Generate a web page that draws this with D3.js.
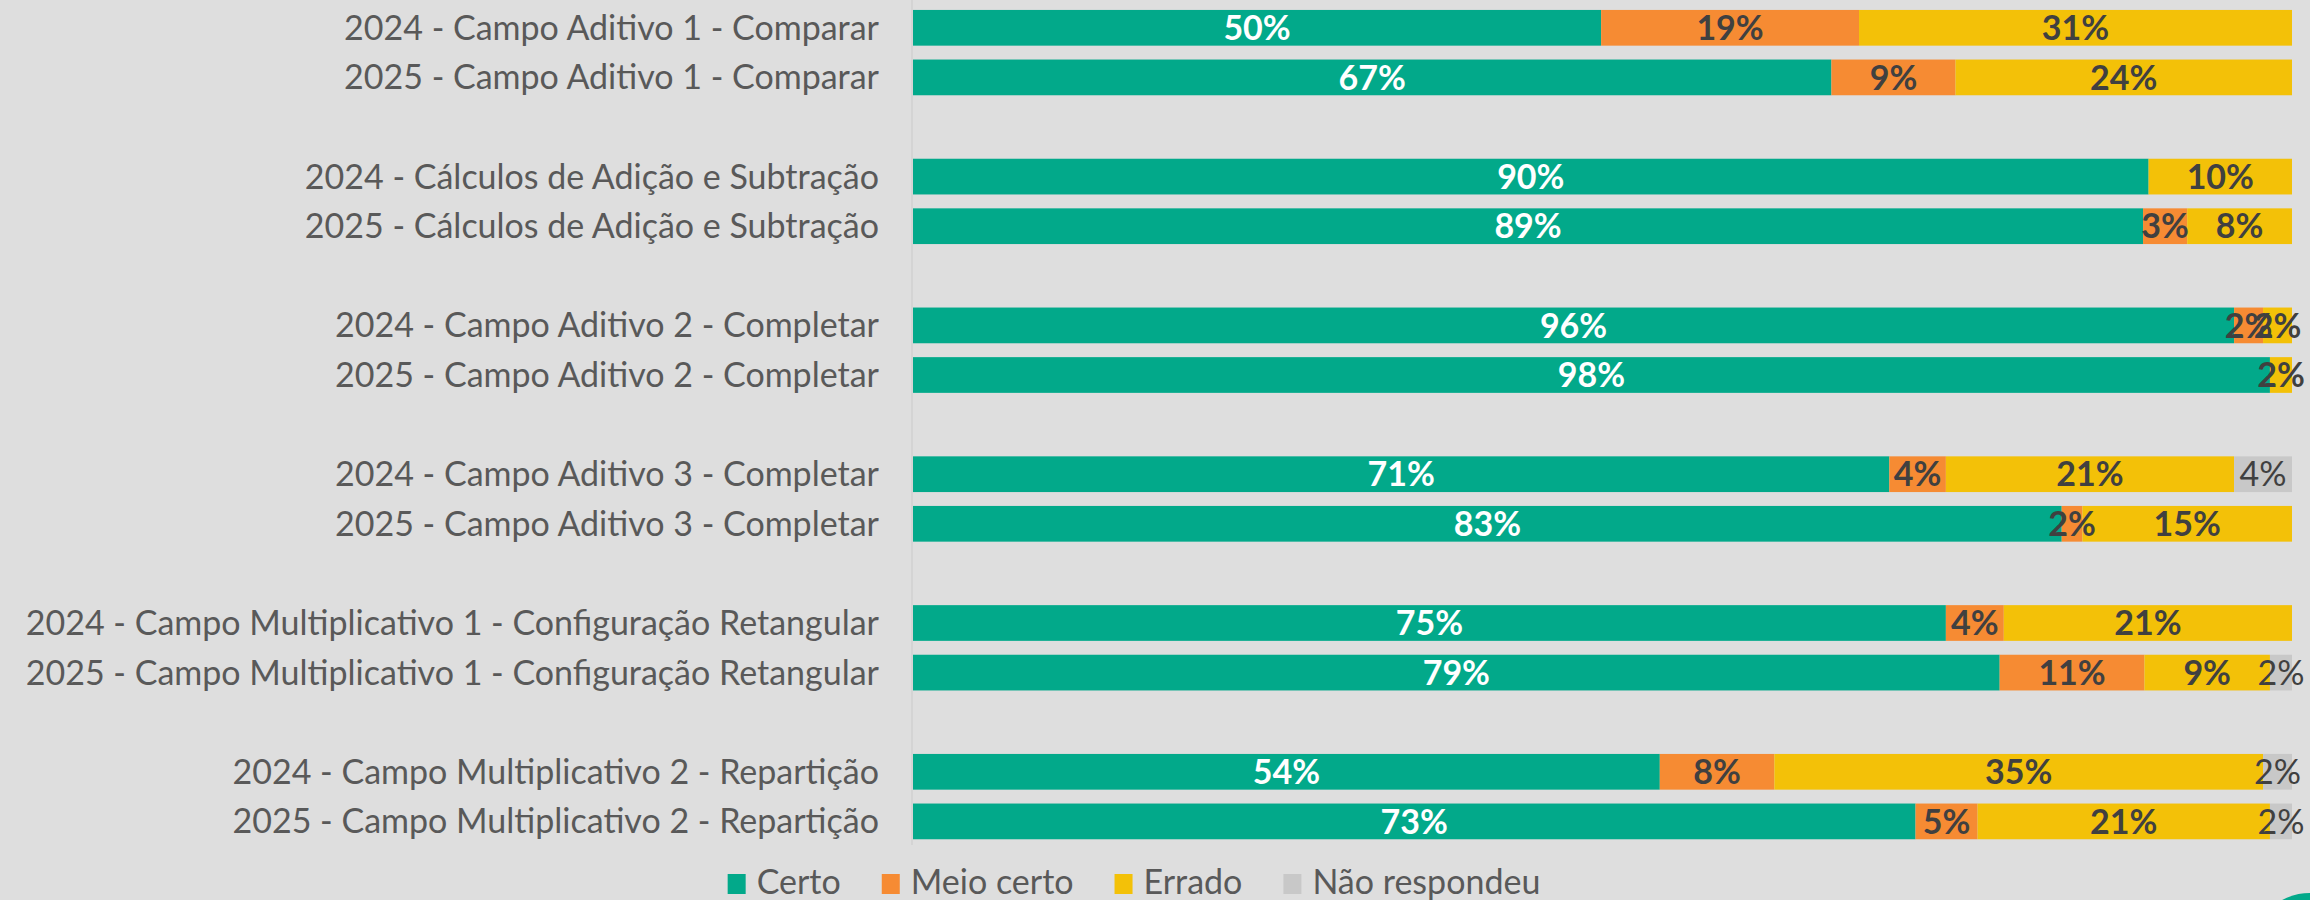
<!DOCTYPE html>
<html>
<head>
<meta charset="utf-8">
<script src="https://cdn.jsdelivr.net/npm/d3@7"></script>
<style>
  body { margin: 0; background: #dedede; }
  svg { display: block; font-family: Lato, "Open Sans", sans-serif; }
</style>
</head>
<body>
<script>
// Categories (top to bottom), empty strings are the gaps between groups
var categories = [
  "2024 - Campo Aditivo 1 - Comparar",
  "2025 - Campo Aditivo 1 - Comparar",
  "",
  "2024 - Cálculos de Adição e Subtração",
  "2025 - Cálculos de Adição e Subtração",
  "",
  "2024 - Campo Aditivo 2 - Completar",
  "2025 - Campo Aditivo 2 - Completar",
  "",
  "2024 - Campo Aditivo 3 - Completar",
  "2025 - Campo Aditivo 3 - Completar",
  "",
  "2024 - Campo Multiplicativo 1 - Configuração Retangular",
  "2025 - Campo Multiplicativo 1 - Configuração Retangular",
  "",
  "2024 - Campo Multiplicativo 2 - Repartição",
  "2025 - Campo Multiplicativo 2 - Repartição"
];

// Series values (percent), one per real category
var certo        = [49.9, 66.6, 89.6, 89.2, 95.8, 98.4, 70.8, 83.3, 74.9, 78.8, 54.1, 72.7];
var meioCerto    = [18.7,  9.0,  0.0,  3.2,  2.1,  0.0,  4.1,  1.5,  4.2, 10.5,  8.3,  4.5];
var errado       = [31.4, 24.4, 10.4,  7.6,  2.1,  1.6, 20.9, 15.2, 20.9,  9.1, 35.4, 21.2];
var naoRespondeu = [ 0.0,  0.0,  0.0,  0.0,  0.0,  0.0,  4.2,  0.0,  0.0,  1.6,  2.1,  1.6];

var seriesNames = ["Certo", "Meio certo", "Errado", "Não respondeu"];
var seriesColors = ["#02a98a", "#f68b33", "#f3c108", "#c8c8c8"];
var labelColors = ["#ffffff", "#404040", "#404040", "#404040"];
var labelWeights = ["bold", "bold", "bold", "normal"];

var W = 2310, H = 900;
var plotLeft = 913, plotRight = 2292;

var svg = d3.select("body").append("svg")
    .attr("width", W).attr("height", H);

svg.append("rect").attr("width", W).attr("height", H).attr("fill", "#dedede");

// Build rows from the arrays
var realCats = categories.filter(function(c) { return c !== ""; });
var rows = realCats.map(function(c, i) {
    return {cat: c, vals: [certo[i], meioCerto[i], errado[i], naoRespondeu[i]]};
});

// Keys for band scale: gaps get unique keys
var keys = categories.map(function(c, i) { return c === "" ? "gap" + i : c; });

var x = d3.scaleLinear().domain([0, 100]).range([plotLeft, plotRight]);
var y = d3.scaleBand().domain(keys)
    .range([3, 3 + 17 * 49.6])
    .paddingInner(0.28).paddingOuter(0.14);

// faint vertical axis line
svg.append("line")
    .attr("x1", plotLeft - 1).attr("x2", plotLeft - 1)
    .attr("y1", 0).attr("y2", 845)
    .attr("stroke", "#d4d4d4").attr("stroke-width", 2);

// category labels
svg.append("g").selectAll("text")
    .data(realCats)
    .enter().append("text")
    .attr("x", plotLeft - 34)
    .attr("y", function(d) { return y(d) + y.bandwidth() / 2; })
    .attr("dy", "0.35em")
    .attr("text-anchor", "end")
    .attr("fill", "#595959")
    .style("font-size", "34px")
    .text(function(d) { return d; });

// stacked bars
var rowG = svg.append("g").selectAll("g.row")
    .data(rows)
    .enter().append("g").attr("class", "row");

rowG.each(function(r) {
    var g = d3.select(this);
    var total = d3.sum(r.vals);
    var acc = 0;
    var segs = r.vals.map(function(v, k) {
        var s = {k: k, v: v, x0: acc / total * 100, x1: (acc + v) / total * 100};
        acc += v;
        return s;
    });
    var y0 = y(r.cat), bh = y.bandwidth();
    g.selectAll("rect").data(segs.filter(function(s) { return s.v > 0; }))
        .enter().append("rect")
        .attr("x", function(s) { return x(s.x0); })
        .attr("width", function(s) { return x(s.x1) - x(s.x0); })
        .attr("y", y0)
        .attr("height", bh)
        .attr("fill", function(s) { return seriesColors[s.k]; });
    g.selectAll("text").data(segs.filter(function(s) { return s.v > 0; }))
        .enter().append("text")
        .attr("x", function(s) { return (x(s.x0) + x(s.x1)) / 2; })
        .attr("y", y0 + bh / 2)
        .attr("dy", "0.36em")
        .attr("text-anchor", "middle")
        .attr("fill", function(s) { return labelColors[s.k]; })
        .style("font-weight", function(s) { return labelWeights[s.k]; })
        .style("font-size", "34px")
        .text(function(s) { return Math.round(s.v) + "%"; });
});

// legend
var legend = svg.append("g");
var lx = 0;
seriesNames.forEach(function(name, i) {
    var item = legend.append("g").attr("transform", "translate(" + lx + ",0)");
    item.append("rect")
        .attr("x", 0).attr("y", -20)
        .attr("width", 18).attr("height", 20)
        .attr("fill", seriesColors[i]);
    var t = item.append("text")
        .attr("x", 29).attr("y", 0)
        .attr("fill", "#595959")
        .style("font-size", "34px")
        .text(name);
    lx += 29 + t.node().getComputedTextLength() + 41;
});
var legendWidth = lx - 41;
legend.attr("transform", "translate(" + (1134 - legendWidth / 2) + ",894)");

// cut-off logo corner
svg.append("circle")
    .attr("cx", 2310).attr("cy", 952).attr("r", 59)
    .attr("fill", "#02a98a");
</script>
</body>
</html>
